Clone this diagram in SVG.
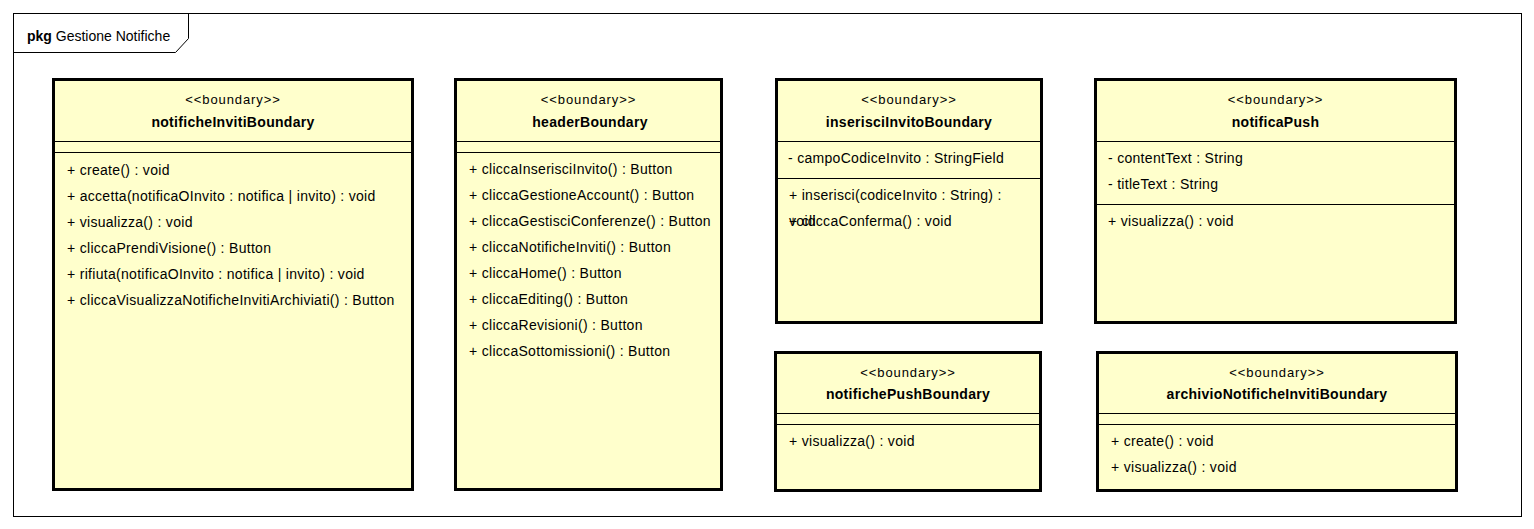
<svg xmlns="http://www.w3.org/2000/svg" width="1534" height="529" viewBox="0 0 1534 529">
  <style>
    text { font-family: "Liberation Sans", Arial, sans-serif; fill: #000; }
    .st { font-size: 13px; letter-spacing: 0.9px; text-anchor: middle; }
    .nm { font-size: 14px; letter-spacing: 0.3px; font-weight: bold; text-anchor: middle; }
    .mb { font-size: 14px; letter-spacing: 0.3px; }
    .box { fill: #FFFFCC; stroke: #000; stroke-width: 3; }
    .sep { stroke: #000; stroke-width: 1; }
    .frame { fill: none; stroke: #000; stroke-width: 1; }
  </style>
  <rect width="1534" height="529" fill="#fff"/>

  <!-- package frame -->
  <g id="pkg">
    <rect class="frame" x="13.5" y="13.5" width="1508" height="503"/>
    <path class="frame" d="M13.5 52.5 H175.5 L188.5 38.5 V13.5"/>
    <text x="27" y="41" style="font-size:14px"><tspan font-weight="bold">pkg</tspan> Gestione Notifiche</text>
  </g>

  <!-- notificheInvitiBoundary -->
  <g id="notificheInvitiBoundary">
    <rect class="box" x="53.5" y="79.5" width="359" height="410"/>
    <line class="sep" x1="53" y1="141.5" x2="413" y2="141.5"/>
    <line class="sep" x1="53" y1="152.5" x2="413" y2="152.5"/>
    <text class="st" x="233" y="104">&lt;&lt;boundary&gt;&gt;</text>
    <text class="nm" x="233" y="127">notificheInvitiBoundary</text>
    <text class="mb" x="67" y="175">+ create() : void</text>
    <text class="mb" x="67" y="201">+ accetta(notificaOInvito : notifica | invito) : void</text>
    <text class="mb" x="67" y="227">+ visualizza() : void</text>
    <text class="mb" x="67" y="253">+ cliccaPrendiVisione() : Button</text>
    <text class="mb" x="67" y="279">+ rifiuta(notificaOInvito : notifica | invito) : void</text>
    <text class="mb" x="67" y="305">+ cliccaVisualizzaNotificheInvitiArchiviati() : Button</text>
  </g>

  <!-- headerBoundary -->
  <g id="headerBoundary">
    <rect class="box" x="455.5" y="79.5" width="266" height="410"/>
    <line class="sep" x1="455" y1="141.5" x2="722" y2="141.5"/>
    <line class="sep" x1="455" y1="152.5" x2="722" y2="152.5"/>
    <text class="st" x="588.5" y="104">&lt;&lt;boundary&gt;&gt;</text>
    <text class="nm" x="590" y="127">headerBoundary</text>
    <text class="mb" x="469" y="174">+ cliccaInserisciInvito() : Button</text>
    <text class="mb" x="469" y="200">+ cliccaGestioneAccount() : Button</text>
    <text class="mb" x="469" y="226">+ cliccaGestisciConferenze() : Button</text>
    <text class="mb" x="469" y="252">+ cliccaNotificheInviti() : Button</text>
    <text class="mb" x="469" y="278">+ cliccaHome() : Button</text>
    <text class="mb" x="469" y="304">+ cliccaEditing() : Button</text>
    <text class="mb" x="469" y="330">+ cliccaRevisioni() : Button</text>
    <text class="mb" x="469" y="356">+ cliccaSottomissioni() : Button</text>
  </g>

  <!-- inserisciInvitoBoundary: the long operation wraps onto the next row -->
  <g id="inserisciInvitoBoundary">
    <rect class="box" x="776.5" y="79.5" width="265" height="243"/>
    <line class="sep" x1="776" y1="141.5" x2="1042" y2="141.5"/>
    <line class="sep" x1="776" y1="178.5" x2="1042" y2="178.5"/>
    <text class="st" x="909" y="104">&lt;&lt;boundary&gt;&gt;</text>
    <text class="nm" x="909" y="127">inserisciInvitoBoundary</text>
    <text class="mb" x="788" y="163">- campoCodiceInvito : StringField</text>
    <text class="mb" x="789" y="200">+ inserisci(codiceInvito : String) :</text>
    <text class="mb" x="789" y="226">void</text>
    <text class="mb" x="789" y="226">+ cliccaConferma() : void</text>
  </g>

  <!-- notificaPush -->
  <g id="notificaPush">
    <rect class="box" x="1095.5" y="79.5" width="360" height="243"/>
    <line class="sep" x1="1095" y1="141.5" x2="1456" y2="141.5"/>
    <line class="sep" x1="1095" y1="204.5" x2="1456" y2="204.5"/>
    <text class="st" x="1275.5" y="104">&lt;&lt;boundary&gt;&gt;</text>
    <text class="nm" x="1275.5" y="127">notificaPush</text>
    <text class="mb" x="1108" y="163">- contentText : String</text>
    <text class="mb" x="1108" y="189">- titleText : String</text>
    <text class="mb" x="1108" y="226">+ visualizza() : void</text>
  </g>

  <!-- notifichePushBoundary -->
  <g id="notifichePushBoundary">
    <rect class="box" x="775.5" y="352.5" width="265" height="138"/>
    <line class="sep" x1="775" y1="413.5" x2="1041" y2="413.5"/>
    <line class="sep" x1="775" y1="424.5" x2="1041" y2="424.5"/>
    <text class="st" x="908" y="377">&lt;&lt;boundary&gt;&gt;</text>
    <text class="nm" x="908" y="399">notifichePushBoundary</text>
    <text class="mb" x="789" y="446">+ visualizza() : void</text>
  </g>

  <!-- archivioNotificheInvitiBoundary -->
  <g id="archivioNotificheInvitiBoundary">
    <rect class="box" x="1097.5" y="352.5" width="359" height="138"/>
    <line class="sep" x1="1097" y1="413.5" x2="1457" y2="413.5"/>
    <line class="sep" x1="1097" y1="424.5" x2="1457" y2="424.5"/>
    <text class="st" x="1277" y="377">&lt;&lt;boundary&gt;&gt;</text>
    <text class="nm" x="1277" y="399">archivioNotificheInvitiBoundary</text>
    <text class="mb" x="1111" y="446">+ create() : void</text>
    <text class="mb" x="1111" y="472">+ visualizza() : void</text>
  </g>

  <!-- no connectors in this package -->
  <g id="connectors"/>
</svg>
